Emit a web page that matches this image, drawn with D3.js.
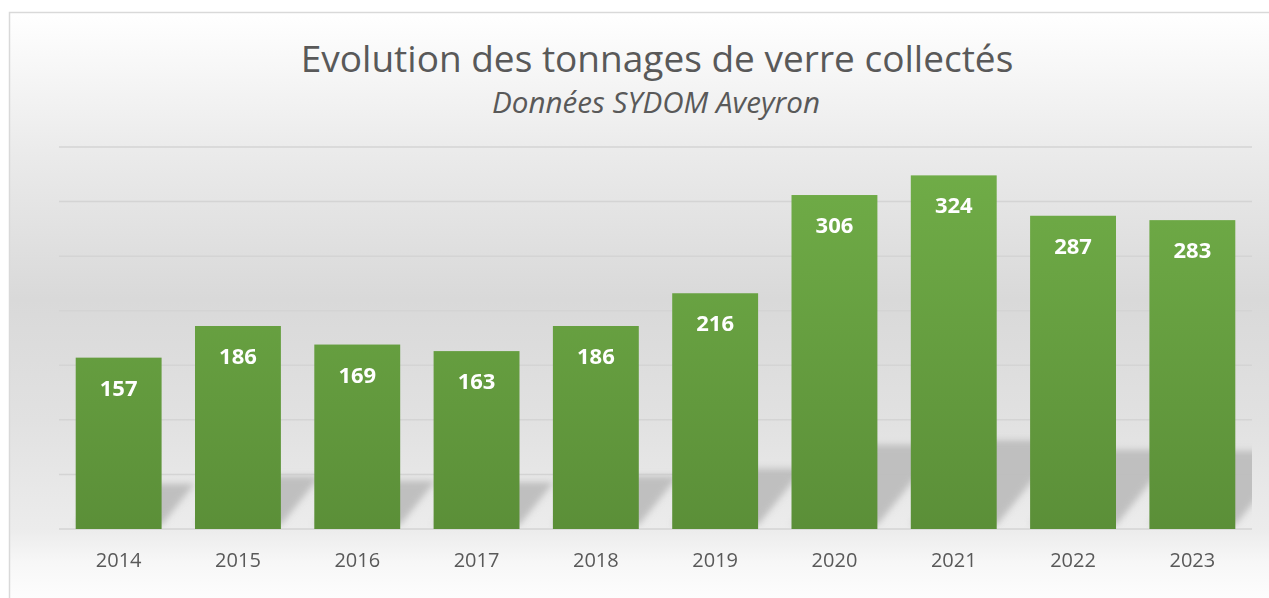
<!DOCTYPE html>
<html>
<head>
<meta charset="utf-8">
<script src="https://cdn.jsdelivr.net/npm/d3@7"></script>
<style>
  html, body { margin: 0; padding: 0; background: #fff; }
  svg { display: block; }
  text { font-family: "Open Sans", "DejaVu Sans", sans-serif; }
</style>
</head>
<body>
<svg id="canvas" width="1269" height="598"></svg>
<script>
'use strict';

/* chart data */
const years = ['2014','2015','2016','2017','2018','2019','2020','2021','2022','2023'];
const tonnages = [157, 186, 169, 163, 186, 216, 306, 324, 287, 283];
const yTicks = [0, 50, 100, 150, 200, 250, 300, 350];

const title = 'Evolution des tonnages de verre collectés';
const subtitle = 'Données SYDOM Aveyron';

const W = 1269, H = 598;
/* plot area in pixels */
const plot = {left: 59, right: 1252, top: 147, bottom: 529};

const svg = d3.select('svg#canvas');
const defs = svg.append('defs');

/* background gradient of the chart area */
let bg = defs.append('linearGradient')
  .attr('id', 'bg').attr('x1', 0).attr('y1', 0).attr('x2', 0).attr('y2', 1);
[[0, '#ffffff'], [0.23, '#ebebeb'], [0.48, '#d9d9d9'], [0.68, '#e1e1e1'],
 [0.865, '#ececec'], [0.92, '#f7f7f7'], [1, '#ffffff']].forEach(s => {
  bg.append('stop').attr('offset', s[0]).attr('stop-color', s[1]);
});

/* bar gradient */
let bar = defs.append('linearGradient')
  .attr('id', 'bar').attr('gradientUnits', 'userSpaceOnUse')
  .attr('x1', 0).attr('y1', plot.top).attr('x2', 0).attr('y2', plot.bottom);
bar.append('stop').attr('offset', 0).attr('stop-color', '#71ae48');
bar.append('stop').attr('offset', 1).attr('stop-color', '#5b8f38');

/* soft shadow */
defs.append('filter').attr('id', 'blur')
  .attr('x', '-20%').attr('y', '-20%').attr('width', '140%').attr('height', '140%')
  .append('feGaussianBlur').attr('stdDeviation', 3);

defs.append('clipPath').attr('id', 'plotclip')
  .append('rect')
  .attr('x', plot.left).attr('y', plot.top - 60)
  .attr('width', plot.right - plot.left).attr('height', plot.bottom - plot.top + 59);

/* chart frame */
svg.append('rect')
  .attr('x', 9.5).attr('y', 12.5)
  .attr('width', W).attr('height', H)
  .attr('fill', 'url(#bg)')
  .attr('stroke', '#d9d9d9').attr('stroke-width', 1.5);

/* scales */
const x = d3.scaleBand()
  .domain(years)
  .range([plot.left, plot.right])
  .paddingInner(0.28)
  .paddingOuter(0.14);

const y = d3.scaleLinear()
  .domain([0, 350])
  .range([plot.bottom, plot.top]);

/* gridlines */
svg.append('g').attr('id', 'grid')
  .selectAll('line')
  .data(yTicks)
  .join('line')
  .attr('x1', plot.left).attr('x2', plot.right)
  .attr('y1', d => y(d)).attr('y2', d => y(d))
  .attr('stroke', '#d4d4d4').attr('stroke-width', 1.5);

const data = years.map((d, i) => ({year: d, value: tonnages[i]}));

/* reflection shadows behind each bar */
svg.append('g').attr('clip-path', 'url(#plotclip)')
  .append('g').attr('filter', 'url(#blur)')
  .selectAll('path')
  .data(data)
  .join('path')
  .attr('d', d => {
    const x0 = x(d.year), x1 = x0 + x.bandwidth();
    const sh = (plot.bottom - y(d.value)) * 0.24;
    const dx = sh * 0.8;
    const b = plot.bottom - 4;
    return 'M' + x0 + ',' + b + 'L' + x1 + ',' + b +
      'L' + (x1 + dx) + ',' + (b - sh) + 'L' + (x0 + dx) + ',' + (b - sh) + 'Z';
  })
  .attr('fill', '#bdbdbd')
  .attr('opacity', 0.95);

/* bars */
svg.append('g').attr('id', 'bars')
  .selectAll('rect')
  .data(data)
  .join('rect')
  .attr('x', d => x(d.year))
  .attr('y', d => y(d.value))
  .attr('width', x.bandwidth())
  .attr('height', d => plot.bottom - y(d.value))
  .attr('fill', 'url(#bar)');

/* value labels */
svg.append('g').attr('id', 'labels')
  .selectAll('text')
  .data(data)
  .join('text')
  .attr('x', d => x(d.year) + x.bandwidth() / 2)
  .attr('y', d => y(d.value) + 38)
  .attr('text-anchor', 'middle')
  .attr('fill', '#ffffff')
  .attr('font-weight', 'bold')
  .attr('font-size', 22)
  .text(d => d.value);

/* category axis */
const xAxis = d3.axisBottom(x).tickSize(0).tickPadding(0);
const gx = svg.append('g')
  .attr('id', 'bottom-axis')
  .attr('transform', 'translate(0,' + plot.bottom + ')')
  .call(xAxis);
gx.select('.domain').remove();
gx.selectAll('text')
  .attr('dy', null)
  .attr('y', 38)
  .attr('fill', '#595959')
  .attr('font-size', 20)
  .attr('font-family', '"Open Sans", sans-serif');

/* titles: fit the font size to the width seen in the reference */
function fitText(sel, targetWidth){
  const fs = +sel.attr('font-size');
  const w = sel.node().getComputedTextLength();
  sel.attr('font-size', fs * targetWidth / w);
}

let t = svg.append('text')
  .attr('x', 657).attr('y', 72)
  .attr('text-anchor', 'middle')
  .attr('fill', '#595959')
  .attr('font-size', 36)
  .text(title);
fitText(t, 713);

let st = svg.append('text')
  .attr('x', 656).attr('y', 113)
  .attr('text-anchor', 'middle')
  .attr('fill', '#595959')
  .attr('font-style', 'italic')
  .attr('font-size', 28)
  .text(subtitle);
fitText(st, 328);
</script>
</body>
</html>
